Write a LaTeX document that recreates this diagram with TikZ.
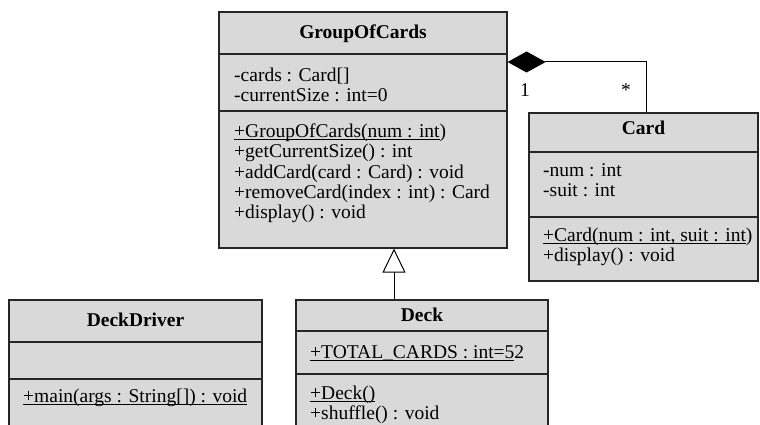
\documentclass[tikz,border=0pt]{standalone}
\usepackage{fontspec}
\setmainfont{Liberation Serif}
\usetikzlibrary{arrows.meta}

\definecolor{umlgray}{gray}{0.85}
\newcommand{\umlstrut}{\rule{0pt}{15pt}}
\newcommand{\umlstatic}[1]{\setbox0\hbox{#1}\rlap{\rule[-3pt]{\wd0}{0.9pt}}\box0\relax}

\begin{document}
\begin{tikzpicture}[x=1pt, y=-1pt,
    every node/.style={font=\fontsize{19.5}{20.4}\selectfont, inner sep=0pt},
    classbox/.style={draw=black!85, fill=umlgray, line width=1.2pt},
    divider/.style={draw=black!85, line width=1.2pt},
    classname/.style={anchor=base, font=\fontsize{19.5}{20.4}\selectfont\bfseries},
    members/.style={anchor=north west, yshift=15pt, align=left},
    inherit/.style={-{Triangle[open, length=24pt, width=23pt]}, line width=1pt},
    compose/.style={-{Diamond[length=38pt, width=21pt]}, line width=1pt}]
  \clip (0,0) rectangle (760,425);

  % Class boxes
  \node[classbox, minimum width=288pt, minimum height=236pt] (goc) at (363,130) {};
  \node[classbox, minimum width=229pt, minimum height=168pt] (card) at (643.5,197) {};
  \node[classbox, minimum width=253pt, minimum height=200pt] (driver) at (135.5,400) {};
  \node[classbox, minimum width=252pt, minimum height=200pt] (deck) at (422,400) {};

  % Compartments
  \foreach \n/\y in {goc/54, goc/111, card/152, card/217, driver/342, driver/379, deck/331, deck/374}
    \draw[divider] (\n.west |- 0,\y) -- (\n.east |- 0,\y);

  % GroupOfCards
  \node[classname] (gocname) at (363,39) {GroupOfCards};
  \node[members] (gocattrs) at (234,81) {\umlstrut-cards : Card[]\\-currentSize : int=0};
  \node[members] (gocops) at (234,137) {\umlstrut\umlstatic{+GroupOfCards(num : int})\\+getCurrentSize() : int\\+addCard(card : Card) : void\\+removeCard(index : int) : Card\\+display() : void};

  % Card
  \node[classname] (cardname) at (643.5,135) {Card};
  \node[members] (cardattrs) at (543,176) {\umlstrut-num : int\\-suit : int};
  \node[members] (cardops) at (543,241) {\umlstrut\umlstatic{+Card(num : int, suit : int})\\+display() : void};

  % DeckDriver
  \node[classname] (drivername) at (135.5,326) {DeckDriver};
  \node[members] (driverops) at (23,402) {\umlstrut\umlstatic{+main(args : String[]) : void}};

  % Deck
  \node[classname] (deckname) at (422,321) {Deck};
  \node[members] (deckattrs) at (310,358) {\umlstrut\umlstatic{+TOTAL\_CARDS : int=5}2};
  \node[members] (deckops) at (310,399) {\umlstrut\umlstatic{+Deck()}\\+shuffle() : void};

  % Generalization and composition
  \draw[inherit] ([xshift=-28pt]deck.north) -- ([xshift=-28pt]deck.north |- goc.south);
  \draw[compose] ([xshift=3pt]card.north) |- ([yshift=68pt]goc.east);
  \node[anchor=base] (mone) at (525,97) {1};
  \node[anchor=base] (mstar) at (626,97) {*};
\end{tikzpicture}
\end{document}
